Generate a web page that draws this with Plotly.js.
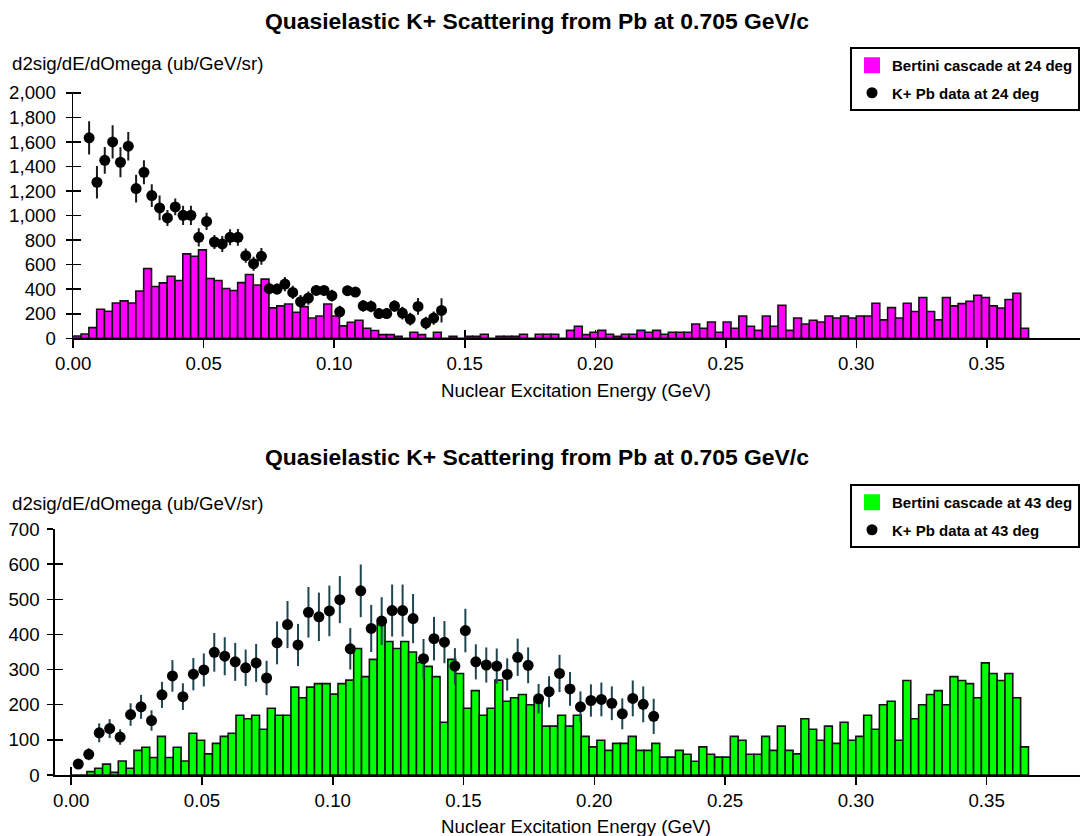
<!DOCTYPE html>
<html><head><meta charset="utf-8">
<script src="https://cdn.plot.ly/plotly-3.0.1.min.js"></script>
<style>html,body{margin:0;padding:0;background:#fff;} #chart{width:1083px;height:836px;}</style>
</head><body><div id="chart"></div>
<script>
// ---------------- data ----------------
const binStart = 0.0015;   // centre of first histogram bin (GeV)
const binWidth = 0.003;    // histogram bin width (GeV)

// Bertini cascade histogram, 24 deg (ub/GeV/sr)
const bertini24 = [19,35,87,237,220,288,305,288,386,569,
422,452,506,471,688,669,721,487,471,406,
389,454,520,434,482,248,264,280,212,258,
166,182,280,182,101,131,147,82,63,30,
30,16,0,49,30,0,49,0,16,0,
16,16,33,0,16,16,16,33,0,33,
33,33,0,65,98,30,49,65,33,16,
33,33,65,49,65,33,49,49,49,117,
82,133,49,133,82,182,98,65,182,98,
269,65,166,117,147,133,182,166,182,166,
182,182,286,150,250,166,286,218,332,218,
150,332,264,283,302,351,332,264,247,316,
367,82];

// K+ Pb data, 24 deg
const data24Start = 0.0061, data24Step = 0.003;
const data24 = [1634,1272,1451,1601,1435,1566,1220,1353,1163,1063,
981,1071,1002,1002,823,953,785,769,823,823,
673,608,668,404,401,442,374,298,328,390,
390,347,216,388,377,265,260,202,202,263,
206,157,260,124,165,227];
const err24 = [136,133,109,136,122,116,113,98,92,100,
65,68,79,79,75,71,57,65,65,68,
58,57,68,48,45,58,54,54,54,41,
41,48,50,41,41,48,48,45,45,48,
52,52,68,52,54,99];

// Bertini cascade histogram, 43 deg
const bertini43 = [0,0,9.5,19,31,7.6,40,19,70,79,
50,110,50,79,40,119,99,60,90,110,
119,170,160,170,130,190,170,170,250,220,
250,260,260,230,260,270,360,280,329,430,
380,360,380,350,320,309,280,150,329,289,
190,240,170,190,270,210,220,229,200,210,
139,139,170,139,170,110,80,99,70,90,
90,110,70,70,90,51,51,70,59,39,
80,59,51,51,110,99,59,59,110,70,
139,70,60,160,130,99,139,90,150,99,
110,170,130,200,210,99,269,160,200,229,
240,200,280,269,260,220,319,289,269,289,
220,80];

// K+ Pb data, 43 deg
const data43Start = 0.0027, data43Step = 0.004;
const data43 = [31,59,120,132,108,172,194,155,228,282,
223,287,299,349,338,322,305,319,276,376,
428,370,463,450,467,499,359,524,417,438,
468,468,445,331,388,378,310,411,322,313,
310,286,335,312,217,237,289,245,194,212,
215,204,174,218,201,167];
const err43 = [10,17,27,27,22,32,34,29,37,45,
38,46,47,55,54,54,52,54,49,61,
67,60,72,69,72,67,59,75,67,68,
74,74,70,56,62,60,51,62,50,50,
50,46,53,51,42,44,53,48,44,46,
48,48,44,51,51,50];

const chartTitle = "Quasielastic K+ Scattering from Pb at 0.705 GeV/c";
const yTitle = "d2sig/dE/dOmega (ub/GeV/sr)";
const xTitle = "Nuclear Excitation Energy (GeV)";
const names = ["Bertini cascade at 24 deg","K+ Pb data at 24 deg","Bertini cascade at 43 deg","K+ Pb data at 43 deg"];

// ---------------- styles ----------------
const FONT = "Liberation Sans, Arial, Helvetica, sans-serif";
const W = 1083, H = 836;
const px = v => v / W, py = v => (H - v) / H;

function histTrace(y, color, xa, ya){
  return {type:'bar', y:y, x0:binStart, dx:binWidth, width:binWidth,
    xaxis:xa, yaxis:ya, showlegend:false, hoverinfo:'skip',
    marker:{color:color, line:{color:'#111', width:1.6}}};
}
function swatchTrace(color, name, leg, xa, ya){
  return {type:'scatter', mode:'markers', x:[null], y:[null], xaxis:xa, yaxis:ya,
    name:name, legend:leg, legendgroup:leg+'a',
    marker:{symbol:'square', size:20, color:color, line:{width:0}}};
}
function dataTrace(y, err, x0, dx, ecol, name, leg, xa, ya){
  return {type:'scatter', mode:'markers', y:y, x0:x0, dx:dx, xaxis:xa, yaxis:ya,
    name:name, legend:leg, legendgroup:leg+'b',
    marker:{symbol:'circle', size:11, color:'#000'},
    error_y:{type:'data', array:err, visible:true, color:ecol, thickness:2, width:0}};
}
function axisHolder(xa, ya){
  return {type:'scatter', mode:'markers', x:[null], y:[null], xaxis:xa, yaxis:ya, showlegend:false, hoverinfo:'skip'};
}

const traces = [
  axisHolder('x3', 'y3'),
  axisHolder('x4', 'y4'),
  histTrace(bertini24, '#ff00ff', 'x', 'y'),
  swatchTrace('#ff00ff', names[0], 'legend', 'x', 'y'),
  dataTrace(data24, err24, data24Start, data24Step, '#1a1a1a', names[1], 'legend', 'x', 'y'),
  histTrace(bertini43, '#00ff00', 'x2', 'y2'),
  swatchTrace('#00ff00', names[2], 'legend2', 'x2', 'y2'),
  dataTrace(data43, err43, data43Start, data43Step, '#1d4650', names[3], 'legend2', 'x2', 'y2')
];

const FS = 18.7;
const tickFont = {family:FONT, size:FS, color:'#000'};
function xAxis(domain, range, anchor){
  return {domain:domain, range:range, anchor:anchor, autorange:false,
    tick0:0, dtick:0.05, tickformat:'.2f', ticks:'outside', ticklen:8, tickwidth:1.5, tickcolor:'#000',
    showline:true, linecolor:'#000', linewidth:1.6, showgrid:false, zeroline:false,
    tickfont:tickFont, ticklabelstandoff:0, automargin:false};
}
function yAxis(domain, range, dtick, anchor, standoff){
  return {domain:domain, range:range, anchor:anchor, autorange:false,
    tick0:0, dtick:dtick, tickformat:',d', ticks:'outside', ticklen:6, tickwidth:1.5, tickcolor:'#000',
    showline:true, linecolor:'#000', linewidth:1.6, showgrid:false, zeroline:false,
    tickfont:tickFont, ticklabelstandoff:standoff, automargin:false};
}
function innerX(base, range, anchor){
  return {overlaying:base, anchor:anchor, range:range, autorange:false, tick0:0, dtick:0.05,
    ticks:'inside', ticklen:8, tickwidth:1.5, tickcolor:'#000', showticklabels:false,
    showline:false, showgrid:false, zeroline:false, layer:'below traces'};
}
function innerY(base, range, dtick, anchor){
  return {overlaying:base, anchor:anchor, range:range, autorange:false, tick0:0, dtick:dtick,
    ticks:'inside', ticklen:8, tickwidth:1.5, tickcolor:'#000', showticklabels:false,
    showline:false, showgrid:false, zeroline:false, layer:'below traces', side:'left'};
}

const xr1 = [0, 0.3857], xr2 = [-0.0062, 0.3857];
const yr1 = [0, 2010], yr2 = [0, 700];
const xd1 = [px(73.2), px(1080)], xd2 = [px(55), px(1080)];
const yd1 = [py(338.3), py(91.7)], yd2 = [py(775), py(529)];

const legendBase = {xanchor:'right', yanchor:'top', bgcolor:'#fff', bordercolor:'#000', borderwidth:2,
  font:{family:FONT, size:15, weight:'bold', color:'#000'}, traceorder:'grouped', tracegroupgap:5,
  itemsizing:'trace', itemclick:false, itemdoubleclick:false};

const annFont = {family:FONT, size:FS, color:'#000'};
const titleFont = {family:FONT, size:22.9, color:'#000', weight:'bold'};
const layout = {
  width:W, height:H, margin:{l:0, r:0, t:0, b:0}, paper_bgcolor:'#fff', plot_bgcolor:'#fff',
  bargap:0, showlegend:true, font:{family:FONT, color:'#000'},
  xaxis: xAxis(xd1, xr1, 'y'),
  yaxis: yAxis(yd1, yr1, 200, 'x', 6),
  xaxis2: xAxis(xd2, xr2, 'y2'),
  yaxis2: yAxis(yd2, yr2, 100, 'x2', 4),
  xaxis3: innerX('x', xr1, 'y'),
  yaxis3: innerY('y', yr1, 200, 'x'),
  xaxis4: innerX('x2', xr2, 'y2'),
  yaxis4: innerY('y2', yr2, 100, 'x2'),
  legend: Object.assign({x:px(1080), y:py(47)}, legendBase),
  legend2: Object.assign({x:px(1080), y:py(484)}, legendBase),
  annotations: [
    {text:chartTitle, xref:'paper', yref:'paper', x:px(537), y:py(21), xanchor:'center', yanchor:'middle', showarrow:false, font:titleFont},
    {text:chartTitle, xref:'paper', yref:'paper', x:px(537), y:py(457), xanchor:'center', yanchor:'middle', showarrow:false, font:titleFont},
    {text:yTitle, xref:'paper', yref:'paper', x:px(10), y:py(64), xanchor:'left', yanchor:'middle', showarrow:false, font:annFont},
    {text:yTitle, xref:'paper', yref:'paper', x:px(10), y:py(503), xanchor:'left', yanchor:'middle', showarrow:false, font:annFont},
    {text:xTitle, xref:'paper', yref:'paper', x:px(576), y:py(390), xanchor:'center', yanchor:'middle', showarrow:false, font:annFont},
    {text:xTitle, xref:'paper', yref:'paper', x:px(576), y:py(826), xanchor:'center', yanchor:'middle', showarrow:false, font:annFont}
  ]
};

Plotly.newPlot('chart', traces, layout, {staticPlot:true, displayModeBar:false});
</script>
</body></html>
